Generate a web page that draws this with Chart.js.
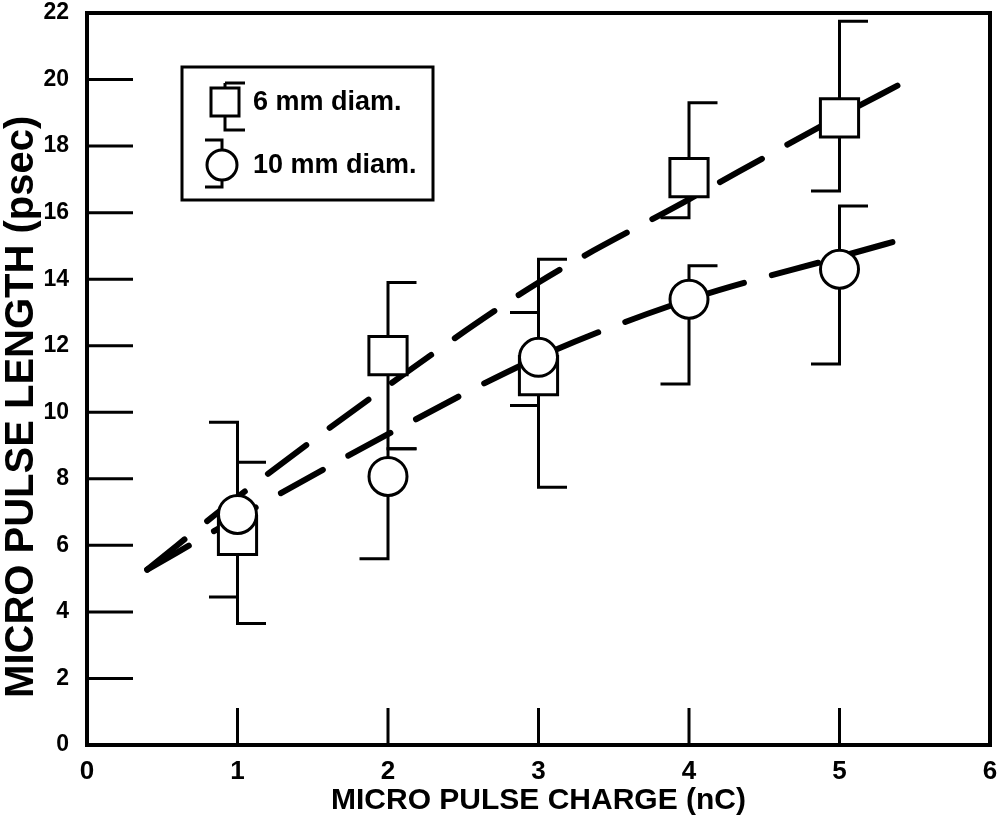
<!DOCTYPE html>
<html>
<head>
<meta charset="utf-8">
<script src="https://cdn.jsdelivr.net/npm/chart.js@4.4.1/dist/chart.umd.min.js"></script>
<style>
  html, body { margin: 0; padding: 0; background: #fff; }
  #wrap { width: 998px; height: 819px; }
</style>
</head>
<body>
<div id="wrap"><canvas id="pulseChart" width="998" height="819"></canvas></div>
<script>
// measured points (micro pulse charge in nC)
const charges = [1, 2, 3, 4, 5];
const len6mm = [6.3, 11.7, 11.1, 17.05, 18.85];
const len6mmHigh = [9.7, 13.9, 14.6, 19.3, 21.75];
const len6mmLow = [3.65, 8.9, 7.75, 15.85, 16.65];
const len10mm = [6.93, 8.07, 11.65, 13.4, 14.3];
const len10mmHigh = [8.5, 8.9, 13.0, 14.4, 16.2];
const len10mmLow = [4.45, 5.6, 10.2, 10.85, 11.45];

// which side the half caps point to
const cap6mmHigh = ['L', 'R', 'R', 'R', 'R'];
const cap6mmLow = ['R', 'R', 'R', 'L', 'L'];
const cap10mmHigh = ['R', 'R', 'L', 'R', 'R'];
const cap10mmLow = ['L', 'L', 'L', 'L', 'L'];

// dashed fit curves
const fit6mmX = [0.4, 1.0, 2.0, 3.0, 4.0, 5.0, 5.4];
const fit6mmY = [5.27, 7.45, 10.8, 13.9, 16.4, 18.9, 19.85];
const fit10mmX = [0.4, 1.0, 2.0, 3.0, 4.0, 5.0, 5.46];
const fit10mmY = [5.27, 6.83, 9.34, 11.65, 13.39, 14.67, 15.25];

const legendLabels = ['6 mm diam.', '10 mm diam.'];

const xTitle = 'MICRO PULSE CHARGE (nC)';
// trailing spaces push the rotated title down a little, like the original
const yTitle = 'MICRO PULSE LENGTH (psec)\u00a0\u00a0\u00a0\u00a0\u00a0';

const boldFont = "'Liberation Sans', Arial, Helvetica, sans-serif";

function toPoints(xs, ys) {
    return xs.map((v, i) => ({ x: v, y: ys[i] }));
}

function drawHalfCapBars(ctx, x, y, vals, lows, highs, lowSide, highSide) {
    const cap = 27;
    vals.forEach((v, i) => {
        const px = x.getPixelForValue(charges[i]);
        const pLow = y.getPixelForValue(lows[i]);
        const pHigh = y.getPixelForValue(highs[i]);
        ctx.beginPath();
        ctx.moveTo(px, pLow);
        ctx.lineTo(px, pHigh);
        ctx.moveTo(px, pHigh);
        ctx.lineTo(px + (highSide[i] === 'L' ? -cap : cap), pHigh);
        ctx.moveTo(px, pLow);
        ctx.lineTo(px + (lowSide[i] === 'L' ? -cap : cap), pLow);
        ctx.stroke();
    });
}

const errorBars = {
    id: 'errorBars',
    beforeDatasetsDraw(chart) {
        const { ctx, scales: { x, y } } = chart;
        ctx.save();
        ctx.strokeStyle = '#000';
        ctx.lineWidth = 3;
        ctx.lineCap = 'square';
        drawHalfCapBars(ctx, x, y, len6mm, len6mmLow, len6mmHigh, cap6mmLow, cap6mmHigh);
        drawHalfCapBars(ctx, x, y, len10mm, len10mmLow, len10mmHigh, cap10mmLow, cap10mmHigh);
        ctx.restore();
    }
};

const frameAndTicks = {
    id: 'frameAndTicks',
    afterDatasetsDraw(chart) {
        const { ctx, chartArea: a, scales: { x, y } } = chart;
        ctx.save();
        ctx.strokeStyle = '#000';
        ctx.lineWidth = 3;
        ctx.beginPath();
        y.ticks.forEach(t => {
            if (t.value <= y.min || t.value >= y.max) return;
            const py = y.getPixelForValue(t.value);
            ctx.moveTo(a.left, py);
            ctx.lineTo(a.left + 46, py);
        });
        x.ticks.forEach(t => {
            if (t.value <= x.min || t.value >= x.max) return;
            const px = x.getPixelForValue(t.value);
            ctx.moveTo(px, a.bottom);
            ctx.lineTo(px, a.bottom - 37);
        });
        ctx.stroke();
        ctx.lineWidth = 4;
        ctx.strokeRect(a.left, a.top, a.right - a.left, a.bottom - a.top);
        ctx.restore();
    }
};

const boxLegend = {
    id: 'boxLegend',
    afterDraw(chart) {
        const { ctx, chartArea: a } = chart;
        const bx = a.left + 95, by = a.top + 54, bw = 251, bh = 133;
        ctx.save();
        ctx.fillStyle = '#fff';
        ctx.fillRect(bx, by, bw, bh);
        ctx.strokeStyle = '#000';
        ctx.lineWidth = 3;
        ctx.strokeRect(bx, by, bw, bh);

        // square marker with bar
        const sx = bx + 43, sy = by + 35;
        ctx.beginPath();
        ctx.moveTo(sx, sy - 19); ctx.lineTo(sx + 20, sy - 19);
        ctx.moveTo(sx, sy - 19); ctx.lineTo(sx, sy + 28);
        ctx.lineTo(sx + 20, sy + 28);
        ctx.stroke();
        ctx.fillRect(sx - 14, sy - 14, 28, 28);
        ctx.strokeRect(sx - 14, sy - 14, 28, 28);

        // circle marker with bar
        const cx = bx + 40, cy = by + 98;
        ctx.beginPath();
        ctx.moveTo(cx - 17, cy - 25); ctx.lineTo(cx, cy - 25);
        ctx.lineTo(cx, cy + 22); ctx.lineTo(cx - 17, cy + 22);
        ctx.stroke();
        ctx.beginPath();
        ctx.arc(cx, cy, 15, 0, Math.PI * 2);
        ctx.fill();
        ctx.stroke();

        ctx.fillStyle = '#000';
        ctx.font = "bold 27px " + boldFont;
        ctx.textBaseline = 'middle';
        ctx.textAlign = 'left';
        ctx.fillText(legendLabels[0], bx + 71, sy + 1);
        ctx.fillText(legendLabels[1], bx + 71, cy + 1);
        ctx.restore();
    }
};

const ctx = document.getElementById('pulseChart').getContext('2d');
new Chart(ctx, {
    type: 'scatter',
    data: {
        datasets: [
            {
                label: legendLabels[1],
                data: toPoints(charges, len10mm),
                pointStyle: 'circle',
                pointRadius: 19,
                pointBackgroundColor: '#fff',
                pointBorderColor: '#000',
                pointBorderWidth: 3,
                showLine: false,
                order: 0
            },
            {
                label: legendLabels[0],
                data: toPoints(charges, len6mm),
                pointStyle: 'rect',
                pointRadius: 27,
                pointBackgroundColor: '#fff',
                pointBorderColor: '#000',
                pointBorderWidth: 3,
                showLine: false,
                order: 1
            },
            {
                label: 'fit 6 mm',
                data: toPoints(fit6mmX, fit6mmY),
                showLine: true,
                borderColor: '#000',
                borderWidth: 6,
                borderDash: [48, 29],
                borderCapStyle: 'round',
                pointRadius: 0,
                cubicInterpolationMode: 'monotone',
                order: 2
            },
            {
                label: 'fit 10 mm',
                data: toPoints(fit10mmX, fit10mmY),
                showLine: true,
                borderColor: '#000',
                borderWidth: 6,
                borderDash: [48, 29],
                borderCapStyle: 'round',
                pointRadius: 0,
                cubicInterpolationMode: 'monotone',
                order: 3
            }
        ]
    },
    options: {
        responsive: false,
        animation: false,
        devicePixelRatio: 1,
        layout: { autoPadding: false, padding: { top: 13, right: 8, left: 0, bottom: 0 } },
        plugins: {
            legend: { display: false },
            tooltip: { enabled: false }
        },
        scales: {
            x: {
                type: 'linear',
                min: 0,
                max: 6,
                grid: { display: false, drawTicks: false },
                border: { display: false },
                ticks: {
                    stepSize: 1,
                    color: '#000',
                    padding: 14,
                    font: { family: boldFont, size: 26, weight: 'bold', lineHeight: 1 }
                },
                title: {
                    display: true,
                    text: xTitle,
                    color: '#000',
                    padding: { top: 0, bottom: 3 },
                    font: { family: boldFont, size: 30, weight: 'bold', lineHeight: 1 }
                },
                afterFit(scale) {
                    scale.height = 74;
                    scale.paddingLeft = 0;
                    scale.paddingRight = 0;
                }
            },
            y: {
                min: 0,
                max: 22,
                grid: { display: false, drawTicks: false },
                border: { display: false },
                ticks: {
                    stepSize: 2,
                    color: '#000',
                    padding: 18,
                    font: { family: boldFont, size: 23, weight: 'bold', lineHeight: 1 }
                },
                title: {
                    display: true,
                    text: yTitle,
                    color: '#000',
                    padding: 0,
                    font: { family: boldFont, size: 40, weight: 'bold', lineHeight: 1.12 }
                },
                afterFit(scale) {
                    scale.width = 87;
                    scale.paddingTop = 0;
                    scale.paddingBottom = 0;
                }
            }
        }
    },
    plugins: [errorBars, frameAndTicks, boxLegend]
});
</script>
</body>
</html>
